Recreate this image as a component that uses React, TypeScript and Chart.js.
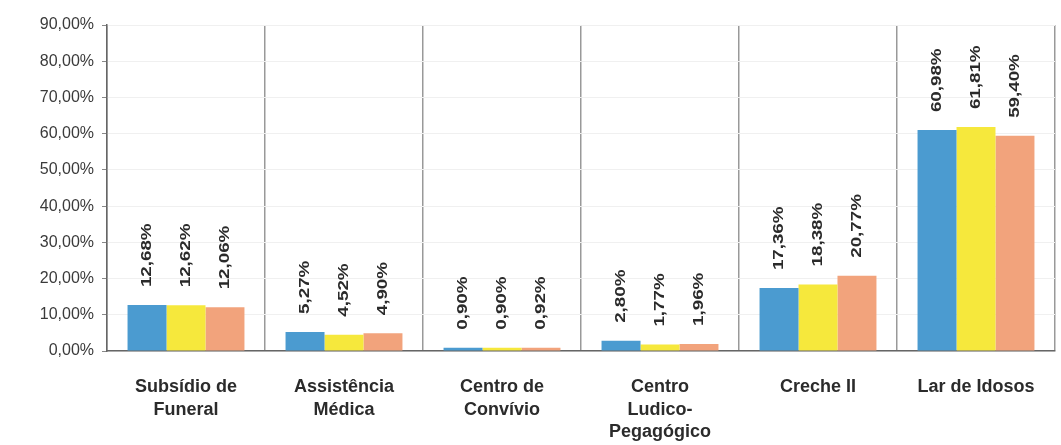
import React, { useEffect, useRef } from "react";
import { Chart, registerables } from "chart.js";

Chart.register(...registerables);

const categories: string[][] = [
  ["Subsídio de", "Funeral"],
  ["Assistência", "Médica"],
  ["Centro de", "Convívio"],
  ["Centro", "Ludico-", "Pegagógico"],
  ["Creche II"],
  ["Lar de Idosos"],
];
const seriesA = [12.68, 5.27, 0.9, 2.8, 17.36, 60.98];
const seriesB = [12.62, 4.52, 0.9, 1.77, 18.38, 61.81];
const seriesC = [12.06, 4.9, 0.92, 1.96, 20.77, 59.4];
const seriesNames = ["Série 1", "Série 2", "Série 3"];
const colors = ["#4b9bd0", "#f6e83c", "#f2a37c"];

const fmt = (v: number) => v.toFixed(2).replace(".", ",") + "%";

const valueLabels = {
  id: "valueLabels",
  afterDatasetsDraw(chart: any) {
    const ctx = chart.ctx;
    ctx.save();
    ctx.font = "bold 15px 'Liberation Sans', Arial, sans-serif";
    ctx.fillStyle = "#2a2a2a";
    ctx.textAlign = "left";
    ctx.textBaseline = "middle";
    chart.data.datasets.forEach((ds: any, i: number) => {
      const meta = chart.getDatasetMeta(i);
      meta.data.forEach((bar: any, j: number) => {
        const v = ds.data[j];
        ctx.save();
        ctx.translate(bar.x, bar.y - 18);
        ctx.rotate(-Math.PI / 2);
        ctx.scale(1.25, 1);
        ctx.fillText(fmt(v), 0, 0);
        ctx.restore();
      });
    });
    ctx.restore();
  },
};

export default function App() {
  const ref = useRef<HTMLCanvasElement>(null);
  useEffect(() => {
    if (!ref.current) return;
    const chart = new Chart(ref.current, {
      type: "bar",
      data: {
        labels: categories,
        datasets: [seriesA, seriesB, seriesC].map((d, i) => ({
          label: seriesNames[i],
          data: d,
          backgroundColor: colors[i],
          borderWidth: 0,
          categoryPercentage: 0.74,
          barPercentage: 1.0,
        })),
      },
      options: {
        animation: false,
        responsive: false,
        maintainAspectRatio: false,
        layout: { padding: { top: 25, right: 6, left: 0, bottom: 0 } },
        plugins: {
          legend: { display: false },
          tooltip: { enabled: false },
        },
        scales: {
          x: {
            grid: {
              color: "#999",
              lineWidth: 1.5,
              drawTicks: false,
              offset: true,
            },
            border: { color: "#666", width: 1.5 },
            ticks: {
              color: "#2b2b2b",
              font: { family: "'Liberation Sans', Arial, sans-serif", size: 18, weight: "bold", lineHeight: 1.25 },
              padding: 25,
              maxRotation: 0,
              autoSkip: false,
            },
            afterFit: (s: any) => {
              s.height = 94;
            },
          },
          y: {
            min: 0,
            max: 90,
            ticks: {
              stepSize: 10,
              color: "#3a3a3a",
              font: { family: "'Liberation Sans', Arial, sans-serif", size: 16 },
              padding: 8,
              callback: (v: any) => Number(v).toFixed(2).replace(".", ",") + "%",
            },
            grid: {
              color: "#f0f0f0",
              tickColor: "#888",
              tickLength: 5,
            },
            border: { color: "#666", width: 1.5 },
            afterFit: (s: any) => {
              s.width = 107;
            },
          },
        },
      },
      plugins: [valueLabels],
    });
    return () => chart.destroy();
  }, []);
  return (
    <div style={{ position: "fixed", left: 0, top: 0, width: 1061, height: 445, background: "#fff" }}>
      <canvas ref={ref} width={1061} height={445} style={{ display: "block" }} />
    </div>
  );
}
